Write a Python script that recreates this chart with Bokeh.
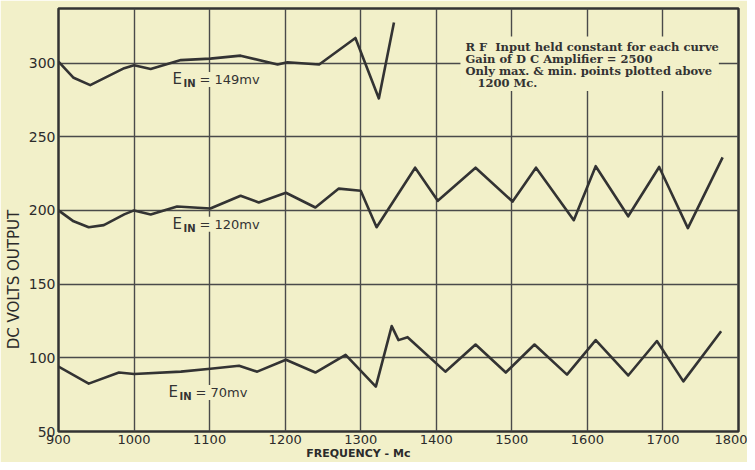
from bokeh.plotting import figure
from bokeh.models import FixedTicker, Range1d
from bokeh.core.properties import value
from bokeh.embed import file_html
from bokeh.resources import INLINE

# ---- data ----
freq_149 = [900, 920, 942, 987, 1000, 1022, 1062, 1101, 1141, 1190, 1203, 1245, 1293, 1324, 1344]
volts_149 = [301, 290, 285, 296.5, 298.5, 296, 302, 303, 305, 299, 300.5, 299, 317, 276, 327.5]

freq_120 = [900, 920, 940, 960, 987, 1000, 1022, 1057, 1101, 1141, 1165, 1201, 1240, 1271,
            1300, 1321, 1372, 1402, 1452, 1501, 1532, 1582, 1611, 1654, 1695, 1733, 1779]
volts_120 = [200, 192.6, 188.6, 190, 197.3, 200, 197.3, 202.7, 201.3, 210, 205.4, 212, 202, 214.8,
             213.4, 188.6, 229, 206.5, 229, 206, 229, 193.4, 230, 196, 229.5, 188, 236]

freq_70 = [900, 940, 980, 1000, 1062, 1101, 1139, 1163, 1201, 1240, 1280, 1320, 1341, 1350,
           1362, 1412, 1452, 1492, 1530, 1573, 1611, 1654, 1692, 1727, 1777]
volts_70 = [94, 82.5, 90, 89, 90.6, 92.6, 94.6, 90.6, 98.7, 90, 102, 80.5, 121.5, 112,
            114, 90.6, 109, 90, 109, 88.6, 112, 88, 111.4, 84, 118]

x_ticks = [900, 1000, 1100, 1200, 1300, 1400, 1500, 1600, 1700, 1800]
y_ticks = [50, 100, 150, 200, 250, 300]

curve_labels = ["= 149mv", "= 120mv", "= 70mv"]
annotation_lines = [
    "R F  Input held constant for each curve",
    "Gain of D C Amplifier = 2500",
    "Only max. & min. points plotted above",
    "   1200 Mc.",
]
x_title = "FREQUENCY - Mc"
y_title = "DC VOLTS OUTPUT"

PAPER = "#f2f0c9"
INK = "#333333"
GRID = "#4a4a4a"
NBSP = "\u00a0"

p = figure(width=747, height=462, output_backend="svg", toolbar_location=None,
           x_range=Range1d(900, 1800), y_range=Range1d(50, 337),
           min_border_left=58, min_border_right=9, min_border_top=8, min_border_bottom=27,
           background_fill_color=PAPER, border_fill_color=PAPER)

p.outline_line_color = INK
p.outline_line_width = 2.5

p.xaxis.ticker = FixedTicker(ticks=x_ticks)
p.yaxis.ticker = FixedTicker(ticks=y_ticks)
p.grid.grid_line_color = GRID
p.grid.grid_line_width = 1.4
p.axis.axis_line_color = None
p.axis.major_tick_line_color = None
p.axis.minor_tick_line_color = None
p.axis.major_tick_out = 0
p.axis.major_tick_in = 0
p.axis.major_label_text_font = "DejaVu Sans"
p.axis.major_label_text_color = "#2b2b2b"
p.xaxis.major_label_text_font_size = "13px"
p.yaxis.major_label_text_font_size = "14px"
p.xaxis.major_label_standoff = 3
p.yaxis.major_label_standoff = 3

# axis titles (trailing no-break spaces shift them off-centre like the original)
p.yaxis.axis_label = y_title + NBSP * 25
p.yaxis.axis_label_text_font = "DejaVu Sans"
p.yaxis.axis_label_text_font_style = "normal"
p.yaxis.axis_label_text_font_size = "15px"
p.yaxis.axis_label_text_color = "#2b2b2b"
p.yaxis.axis_label_standoff = 3

p.xaxis.axis_label = x_title + NBSP * 21
p.xaxis.axis_label_text_font = "DejaVu Sans"
p.xaxis.axis_label_text_font_style = "bold"
p.xaxis.axis_label_text_font_size = "11px"
p.xaxis.axis_label_text_color = "#2b2b2b"
p.xaxis.axis_label_standoff = 0

# curves
for fx, vy in [(freq_149, volts_149), (freq_120, volts_120), (freq_70, volts_70)]:
    p.line(fx, vy, line_color=INK, line_width=2.6, line_join="round")

# annotation box (covers grid behind the note)
p.quad(left=[1432], right=[1774], bottom=[281], top=[318],
       fill_color=PAPER, line_color=None)
ann_x = [1438.6] * len(annotation_lines)
ann_y = [310.8 - i * 8.2 for i in range(len(annotation_lines))]
p.text(x=ann_x, y=ann_y, text=[t.replace(" ", NBSP) for t in annotation_lines],
       text_font=value("DejaVu Serif"), text_font_style="bold", text_font_size="11.5px",
       text_color=INK, text_baseline="middle", text_align="left")

# curve labels  E_IN = ...
lab_x = [1050.9, 1050.9, 1045.6]
lab_y = [288.9, 190.6, 76.5]
p.text(x=lab_x, y=lab_y, text=["E"] * 3, text_font=value("DejaVu Sans"),
       text_font_size="15px", text_color=INK, text_baseline="middle", text_align="left",
       background_fill_color=PAPER)
p.text(x=lab_x, y=lab_y, text=["IN"] * 3, x_offset=11, y_offset=4,
       text_font=value("DejaVu Sans"), text_font_size="10px", text_font_style="bold",
       text_color=INK, text_baseline="middle", text_align="left",
       background_fill_color=PAPER)
p.text(x=lab_x, y=lab_y, text=[t.replace(" ", NBSP) for t in curve_labels], x_offset=27,
       text_font=value("DejaVu Sans"), text_font_size="13px",
       text_color=INK, text_baseline="middle", text_align="left",
       background_fill_color=PAPER)

html = file_html(p, INLINE)
html = html.replace("<body>", '<body style="background-color:%s;">' % PAPER, 1)
open("out.html", "w").write(html)
